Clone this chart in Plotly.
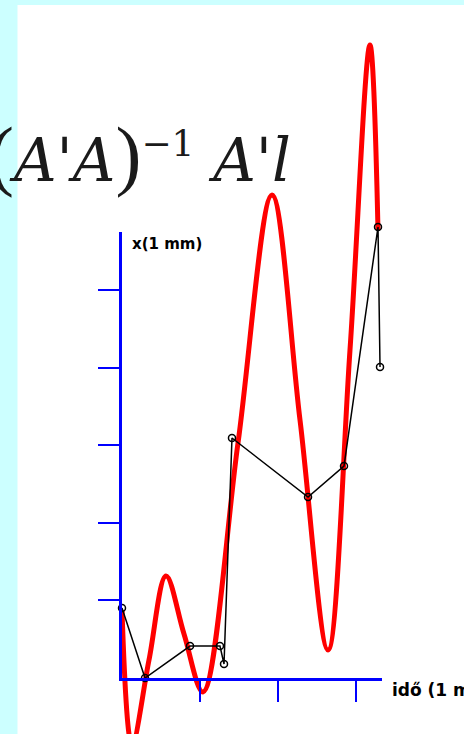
import plotly.graph_objects as go

W, H = 464, 734

# red curve (time, displacement)
red_t = [0.0, 0.128, 0.346, 0.564, 0.795, 1.038, 1.487, 1.923, 2.282, 2.641, 2.923, 3.179, 3.282]
red_x = [0.876, -0.863, 0.232, 1.314, 0.567, -0.180, 3.028, 6.224, 3.325, 0.361, 4.227, 8.157, 5.773]

# black measured points
blk_t = [0.0, 0.295, 0.872, 1.256, 1.308, 1.410, 2.385, 2.846, 3.282, 3.308]
blk_x = [0.902, 0.0, 0.412, 0.412, 0.180, 3.093, 2.332, 2.732, 5.812, 4.008]

xticks = [1, 2, 3]
yticks = [1, 2, 3, 4, 5]

# pixel geometry
x0px, y0px = 122, 678
pxu_x, pxu_y = 78.0, 77.6

fig = go.Figure()
fig.add_trace(go.Scatter(x=red_t, y=red_x, mode="lines",
                         line=dict(color="#FF0000", width=5, shape="spline", smoothing=1.0),
                         xaxis="x", yaxis="y", hoverinfo="skip"))
fig.add_trace(go.Scatter(x=blk_t, y=blk_x, mode="lines+markers",
                         line=dict(color="#000000", width=1.5),
                         marker=dict(symbol="circle-open", size=7, color="#000000", line=dict(width=1.5)),
                         xaxis="x", yaxis="y", hoverinfo="skip"))
# anchor trace so that the drawn axes appear
fig.add_trace(go.Scatter(x=[0], y=[0], mode="markers", marker=dict(opacity=0),
                         xaxis="x2", yaxis="y2", hoverinfo="skip"))

xr = [-x0px / pxu_x, (W - x0px) / pxu_x]
yr = [-(H - y0px) / pxu_y, y0px / pxu_y]

x_end = 382
y_top = 232

paren = "<span style='font-family:Liberation Serif;font-size:78px'>{}</span>"
formula = (paren.format("(") + "<i>A'A</i>" + paren.format(")") +
           "<sup><span style='font-size:36px'>−1</span></sup> <i>A'l</i>")

fig.update_layout(
    width=W, height=H,
    margin=dict(l=0, r=0, t=0, b=0),
    paper_bgcolor="#CCFFFF",
    plot_bgcolor="rgba(0,0,0,0)",
    showlegend=False,
    xaxis=dict(domain=[0, 1], range=xr, visible=False, fixedrange=True),
    yaxis=dict(domain=[0, 1], range=yr, visible=False, fixedrange=True),
    xaxis2=dict(domain=[x0px / W, x_end / W], range=[0, (x_end - x0px) / pxu_x],
                anchor="y2", showline=True, linecolor="#0000FF", linewidth=3,
                ticks="outside", tickvals=xticks, ticklen=21, tickwidth=2, tickcolor="#0000FF",
                showticklabels=False, showgrid=False, zeroline=False, fixedrange=True),
    yaxis2=dict(domain=[(H - y0px) / H, (H - y_top) / H], range=[0, (y0px - y_top) / pxu_y],
                anchor="x2", showline=True, linecolor="#0000FF", linewidth=3,
                ticks="outside", tickvals=yticks, ticklen=21, tickwidth=2, tickcolor="#0000FF",
                showticklabels=False, showgrid=False, zeroline=False, fixedrange=True),
    shapes=[dict(type="rect", xref="paper", yref="paper", x0=17.5 / W, x1=1.01, y0=-0.01, y1=(H - 5) / H,
                 fillcolor="#FFFFFF", line=dict(width=0), layer="below")],
    annotations=[
        dict(text=formula, xref="paper", yref="paper",
             x=-14 / W, y=(H - 200) / H, xanchor="left", yanchor="bottom", showarrow=False,
             font=dict(family="DejaVu Serif", size=59, color="#1a1a1a")),
        dict(text="<b>x(1 mm)</b>", xref="paper", yref="paper", x=130 / W, y=(H - 244) / H,
             xanchor="left", yanchor="middle", showarrow=False,
             font=dict(family="DejaVu Sans", size=15, color="#000000")),
        dict(text="<b>idő (1 ms)</b>", xref="paper", yref="paper", x=390 / W, y=(H - 690) / H,
             xanchor="left", yanchor="middle", showarrow=False,
             font=dict(family="DejaVu Sans", size=17, color="#000000")),
    ],
)

fig.write_html("out.html", config={"displayModeBar": False},
               post_script="document.body.style.margin='0';document.body.style.overflow='hidden';")
